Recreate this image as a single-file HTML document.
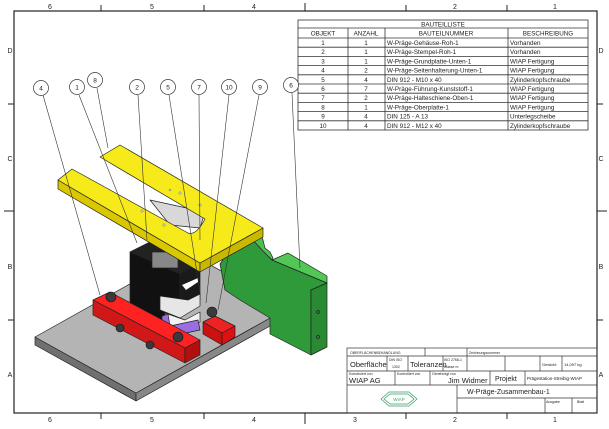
<!DOCTYPE html>
<html><head><meta charset="utf-8"><style>
html,body{margin:0;padding:0;background:#fff}
svg{display:block}
text{font-family:"Liberation Sans",sans-serif;fill:#222}
</style></head><body>
<svg width="609" height="429" viewBox="0 0 609 429" xmlns="http://www.w3.org/2000/svg">
<rect x="14" y="11" width="583" height="402" fill="none" stroke="#222" stroke-width="1.2"/>
<g stroke="#222" stroke-width="1">
<line x1="101" y1="5" x2="101" y2="11"/><line x1="204" y1="5" x2="204" y2="11"/><line x1="406" y1="5" x2="406" y2="11"/><line x1="507" y1="5" x2="507" y2="11"/>
<line x1="101" y1="413" x2="101" y2="419"/><line x1="204" y1="413" x2="204" y2="419"/><line x1="406" y1="413" x2="406" y2="419"/><line x1="507" y1="413" x2="507" y2="419"/>
<line x1="8" y1="104" x2="14" y2="104"/><line x1="8" y1="320" x2="14" y2="320"/>
<line x1="597" y1="104" x2="603" y2="104"/><line x1="597" y1="320" x2="603" y2="320"/>
<line x1="305" y1="3" x2="305" y2="11"/><line x1="305" y1="413" x2="305" y2="424"/>
<line x1="4" y1="211" x2="14" y2="211"/><line x1="597" y1="211" x2="607" y2="211"/>
</g>
<g font-size="7" text-anchor="middle">
<text x="50" y="9">6</text><text x="152" y="9">5</text><text x="254" y="9">4</text><text x="455" y="9">2</text><text x="555" y="9">1</text>
<text x="50" y="422">6</text><text x="152" y="422">5</text><text x="254" y="422">4</text><text x="355" y="422">3</text><text x="455" y="422">2</text><text x="555" y="422">1</text>
<text x="10" y="53">D</text><text x="10" y="161">C</text><text x="10" y="269">B</text><text x="10" y="377">A</text>
<text x="601" y="53">D</text><text x="601" y="161">C</text><text x="601" y="269">B</text><text x="601" y="377">A</text>
</g>
<g stroke="#333" stroke-width="0.8" fill="none">
<rect x="298" y="20" width="290" height="110"/>
<line x1="298" y1="28" x2="588" y2="28"/>
<line x1="298" y1="38" x2="588" y2="38"/>
<line x1="298" y1="47.2" x2="588" y2="47.2"/><line x1="298" y1="56.4" x2="588" y2="56.4"/><line x1="298" y1="65.6" x2="588" y2="65.6"/><line x1="298" y1="74.8" x2="588" y2="74.8"/><line x1="298" y1="84" x2="588" y2="84"/><line x1="298" y1="93.2" x2="588" y2="93.2"/><line x1="298" y1="102.4" x2="588" y2="102.4"/><line x1="298" y1="111.6" x2="588" y2="111.6"/><line x1="298" y1="120.8" x2="588" y2="120.8"/>
<line x1="348" y1="28" x2="348" y2="130"/><line x1="385" y1="28" x2="385" y2="130"/><line x1="508" y1="28" x2="508" y2="130"/>
</g>
<g font-size="6.3" text-anchor="middle">
<text x="443" y="26.5">BAUTEILLISTE</text>
<text x="323" y="35.5">OBJEKT</text><text x="366" y="35.5">ANZAHL</text><text x="446" y="35.5">BAUTEILNUMMER</text><text x="548" y="35.5">BESCHREIBUNG</text>
<text x="323" y="45">1</text><text x="323" y="54.2">2</text><text x="323" y="63.4">3</text><text x="323" y="72.6">4</text><text x="323" y="81.8">5</text><text x="323" y="91">6</text><text x="323" y="100.2">7</text><text x="323" y="109.4">8</text><text x="323" y="118.6">9</text><text x="323" y="127.8">10</text>
<text x="366" y="45">1</text><text x="366" y="54.2">1</text><text x="366" y="63.4">1</text><text x="366" y="72.6">2</text><text x="366" y="81.8">4</text><text x="366" y="91">7</text><text x="366" y="100.2">2</text><text x="366" y="109.4">1</text><text x="366" y="118.6">4</text><text x="366" y="127.8">4</text>
</g>
<g font-size="6.3">
<text x="387" y="45">W-Präge-Gehäuse-Roh-1</text><text x="387" y="54.2">W-Präge-Stempel-Roh-1</text><text x="387" y="63.4">W-Präge-Grundplatte-Unten-1</text><text x="387" y="72.6">W-Präge-Seitenhalterung-Unten-1</text><text x="387" y="81.8">DIN 912 - M10 x 40</text><text x="387" y="91">W-Präge-Führung-Kunststoff-1</text><text x="387" y="100.2">W-Präge-Halteschiene-Oben-1</text><text x="387" y="109.4">W-Präge-Oberplatte-1</text><text x="387" y="118.6">DIN 125 - A 13</text><text x="387" y="127.8">DIN 912 - M12 x 40</text>
<text x="510" y="45">Vorhanden</text><text x="510" y="54.2">Vorhanden</text><text x="510" y="63.4">WIAP Fertigung</text><text x="510" y="72.6">WIAP Fertigung</text><text x="510" y="81.8">Zylinderkopfschraube</text><text x="510" y="91">WIAP Fertigung</text><text x="510" y="100.2">WIAP Fertigung</text><text x="510" y="109.4">WIAP Fertigung</text><text x="510" y="118.6">Unterlegscheibe</text><text x="510" y="127.8">Zylinderkopfschraube</text>
</g>
<g stroke="#222" stroke-width="0.7" stroke-linejoin="round">
<polygon points="35,337 136,393 136,401 35,345" fill="#707070"/>
<polygon points="136,393 288,308 288,316 136,401" fill="#888"/>
<polygon points="35,337 187,252 288,308 136,393" fill="#b4b4b4"/>
<polygon points="220,264 232,246 253,240 262,250 272,260 327,283 311,290 311,355 270,334 270,318 240,300 225,290" fill="#2f9a3a"/>
<polygon points="253,240 262,236 265,248 270,252 273,258 272,260 262,250" fill="#4cc04f"/>
<polygon points="272,260 288,253 327,276 327,283" fill="#52c755"/>
<polygon points="311,290 327,283 327,347 311,355" fill="#2a8a33"/>
<circle cx="318" cy="312" r="1.5" fill="#2a8a33"/><circle cx="318" cy="337" r="1.5" fill="#2a8a33"/>
<polygon points="130,252 150,242 200,262 180,274" fill="#222"/>
<polygon points="130,252 180,274 180,350 130,328" fill="#111"/>
<polygon points="180,274 200,262 200,300 180,312" fill="#1a1a1a"/>
<rect x="152" y="252" width="26" height="16" fill="#888"/>
<polygon points="182,285 198,278 198,282 186,290" fill="#fff" stroke="none"/>
<polygon points="160,296 188,300 200,294 200,306 180,318 160,310" fill="#e6e6e6"/>
<polygon points="165,313 185,320 200,312 200,322 185,330 165,323" fill="#f2f2f2"/>
<polygon points="162,316 168,314 170,326 198,320 200,330 172,336 162,330" fill="#9a6ee0"/>
<polygon points="203,322 215,316 235,326 222,333" fill="#e22"/>
<polygon points="203,322 222,333 222,345 203,334" fill="#c11"/>
<polygon points="222,333 235,326 235,337 222,345" fill="#d11"/>
<polygon points="93,300 110,292 200,340 185,348" fill="#f22"/>
<polygon points="93,300 185,348 185,363 93,315" fill="#d01818"/>
<polygon points="185,348 200,340 200,355 185,363" fill="#b01010"/>
</g>
<g fill="#3a3a3a" stroke="#111" stroke-width="0.6">
<circle cx="111" cy="297" r="5"/><circle cx="178" cy="337" r="5"/><circle cx="212" cy="312" r="5"/>
<circle cx="120" cy="328" r="4"/><circle cx="150" cy="345" r="4"/>
</g>
<g stroke="#222" stroke-width="0.7" stroke-linejoin="round">
<polygon points="150,200 205,212 200,228 170,225" fill="#d8d8d8"/>
<polygon points="58,180 200,263 200,272 58,189" fill="#d9c800"/>
<polygon points="200,263 263,228 263,237 200,272" fill="#c8b800"/>
<path d="M120,145 L263,228 L200,263 L58,180 L72,169 L188,233 Q196,236 205,219 L100,157 Z" fill="#f7ea1a"/>
<g fill="#ddd" stroke="#555" stroke-width="0.4"><circle cx="180" cy="193" r="1.2"/><circle cx="200" cy="205" r="1.2"/><circle cx="142" cy="211" r="1.2"/><circle cx="164" cy="225" r="1.2"/><circle cx="170" cy="190" r="1"/></g>
</g>
<g stroke="#333" stroke-width="0.6" fill="none">
<line x1="43" y1="95" x2="100" y2="295"/>
<line x1="79" y1="95" x2="137" y2="243"/>
<line x1="97" y1="88" x2="108" y2="148"/>
<line x1="138" y1="95" x2="147" y2="240"/>
<line x1="169" y1="95" x2="200" y2="292"/>
<line x1="199" y1="95" x2="200" y2="240"/>
<line x1="229" y1="95" x2="206" y2="303"/>
<line x1="259" y1="95" x2="218" y2="310"/>
<line x1="292" y1="93" x2="300" y2="268"/>
</g>
<g fill="#fff" stroke="#333" stroke-width="0.7">
<circle cx="41" cy="88" r="7.5"/><circle cx="77" cy="87" r="7.5"/><circle cx="95" cy="80" r="7.5"/><circle cx="137" cy="87" r="7.5"/><circle cx="168" cy="87" r="7.5"/><circle cx="199" cy="87" r="7.5"/><circle cx="229" cy="87" r="7.5"/><circle cx="260" cy="87" r="7.5"/><circle cx="291" cy="85" r="7.5"/>
</g>
<g font-size="6.5" text-anchor="middle">
<text x="41" y="90.5">4</text><text x="77" y="89.5">1</text><text x="95" y="82.5">8</text><text x="137" y="89.5">2</text><text x="168" y="89.5">5</text><text x="199" y="89.5">7</text><text x="229" y="89.5">10</text><text x="260" y="89.5">9</text><text x="291" y="87.5">6</text>
</g>
<g stroke="#333" stroke-width="0.7" fill="none">
<rect x="347" y="348" width="250" height="65"/>
<line x1="347" y1="356" x2="597" y2="356"/>
<line x1="347" y1="371" x2="597" y2="371"/>
<line x1="347" y1="385" x2="597" y2="385"/>
<line x1="457" y1="398" x2="597" y2="398"/>
<line x1="457" y1="385" x2="457" y2="413"/>
<line x1="425" y1="348" x2="425" y2="356"/>
<line x1="467" y1="348" x2="467" y2="371"/>
<line x1="387" y1="356" x2="387" y2="371"/>
<line x1="408" y1="356" x2="408" y2="371"/>
<line x1="443" y1="356" x2="443" y2="371"/>
<line x1="505" y1="356" x2="505" y2="371"/>
<line x1="540" y1="356" x2="540" y2="371"/>
<line x1="562" y1="356" x2="562" y2="371"/>
<line x1="395" y1="371" x2="395" y2="385"/>
<line x1="430" y1="371" x2="430" y2="385"/>
<line x1="490" y1="371" x2="490" y2="385"/>
<line x1="525" y1="371" x2="525" y2="385"/>
<line x1="545" y1="398" x2="545" y2="413"/>
<line x1="572" y1="398" x2="572" y2="413"/>
</g>
<g font-size="3.5">
<text x="350" y="354">OBERFLÄCHENBEHANDLUNG</text><text x="469" y="354">Zeichnungsnummer</text>
<text x="349" y="375">Konstruiert von</text><text x="397" y="375">Kontrolliert von</text><text x="432" y="375">Genehmigt von</text>
<text x="389" y="361">DIN ISO</text><text x="392" y="368">1302</text><text x="444" y="361">ISO 2768-1</text><text x="444" y="368">Klasse m</text>
<text x="546" y="403">Ausgabe</text><text x="577" y="403">Blatt</text>
</g>
<g font-size="7">
<text x="350" y="367" font-size="7.5">Oberfläche</text><text x="410" y="367" font-size="7.5">Toleranzen</text>
<text x="349" y="383" font-size="7.5">WIAP AG</text><text x="448" y="383" font-size="7.5">Jim Widmer</text>
<text x="495" y="381">Projekt</text><text x="542" y="366" font-size="4">Gewicht</text><text x="564" y="366" font-size="4">14,097 kg</text>
<text x="527" y="380" font-size="4.5">Prägestation-Streibig-WIAP</text>
<text x="467" y="394">W-Präge-Zusammenbau-1</text>
</g>
<g stroke="#3a9a6a" stroke-width="0.7" fill="none">
<polygon points="381,399 389,392 409,392 417,399 409,406 389,406"/>
<polygon points="384,399 390,394 408,394 414,399 408,404 390,404"/>
</g>
<text x="399" y="401" font-size="4.5" text-anchor="middle" style="fill:#3a9a6a">WIAP</text>
</svg>
</body></html>
